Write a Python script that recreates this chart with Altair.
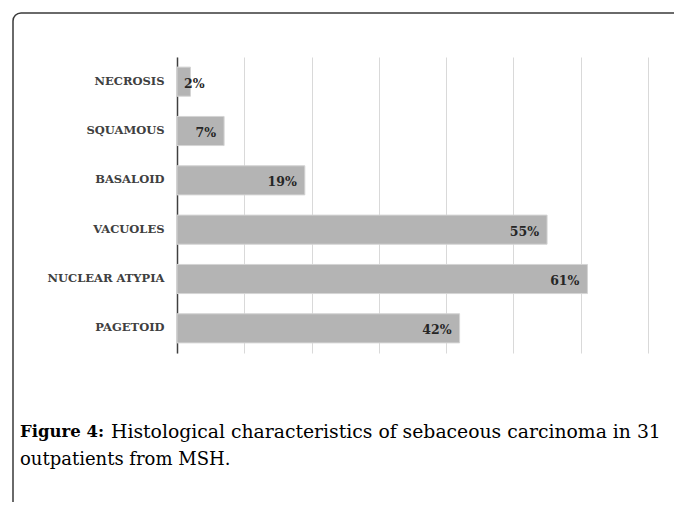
import altair as alt
import pandas as pd

categories = ["NECROSIS", "SQUAMOUS", "BASALOID", "VACUOLES", "NUCLEAR ATYPIA", "PAGETOID"]
values = [2, 7, 19, 55, 61, 42]
value_labels = ["2%", "7%", "19%", "55%", "61%", "42%"]
grid_values = [0, 10, 20, 30, 40, 50, 60, 70]

caption_bold = "Figure 4:"
caption_line1 = "Histological characteristics of sebaceous carcinoma in 31"
caption_line2 = "outpatients from MSH."

df = pd.DataFrame({"cat": categories, "val": values, "lab": value_labels})

SERIF = "DejaVu Serif"

yenc = alt.Y("cat:N", sort=categories, title=None,
             scale=alt.Scale(paddingInner=0.41, paddingOuter=0.205),
             axis=alt.Axis(labelFont=SERIF, labelFontWeight="bold", labelFontSize=11.5,
                           labelColor="#404040", labelPadding=13, ticks=False,
                           domainColor="#404040", domainWidth=1.5, grid=False))
xscale = alt.Scale(domain=[0, 70], nice=False)
xaxis = alt.Axis(values=grid_values, labels=False, ticks=False, domain=False, grid=True,
                 gridColor="#d9d9d9", gridWidth=1, title=None)

bars = alt.Chart(df).mark_bar(color="#b4b4b4", stroke="#d4d4d4", strokeWidth=1).encode(
    x=alt.X("val:Q", scale=xscale, axis=xaxis),
    y=yenc,
)

inside = alt.Chart(df).transform_filter("datum.val >= 5").mark_text(
    align="right", baseline="middle", dx=-8, dy=2, font=SERIF, fontWeight="bold",
    fontSize=12.5, color="#262626"
).encode(x=alt.X("val:Q", scale=xscale), y=alt.Y("cat:N", sort=categories), text="lab:N")

small = alt.Chart(df).transform_filter("datum.val < 5").transform_calculate(zero="0").mark_text(
    align="left", baseline="middle", dx=7, dy=2, font=SERIF, fontWeight="bold",
    fontSize=12.5, color="#262626"
).encode(x=alt.X("zero:Q", scale=xscale), y=alt.Y("cat:N", sort=categories), text="lab:N")

cap_df = pd.DataFrame({"b": [caption_bold], "l1": [caption_line1], "l2": [caption_line2]})

cap_bold = alt.Chart(cap_df).mark_text(
    align="left", baseline="middle", font=SERIF, fontWeight="bold", fontSize=16.5, color="#000000"
).encode(x=alt.value(-157), y=alt.value(375), text="b:N")
cap_l1 = alt.Chart(cap_df).mark_text(
    align="left", baseline="middle", font=SERIF, fontSize=18.8, color="#000000"
).encode(x=alt.value(-66), y=alt.value(375), text="l1:N")
cap_l2 = alt.Chart(cap_df).mark_text(
    align="left", baseline="middle", font=SERIF, fontSize=18, color="#000000"
).encode(x=alt.value(-157), y=alt.value(403), text="l2:N")

frame = alt.Chart(cap_df).mark_rect(
    fill="#ffffff", fillOpacity=0, stroke="#3a3a3a", strokeWidth=1.5,
    cornerRadiusTopLeft=8, cornerRadiusTopRight=0, cornerRadiusBottomLeft=0, cornerRadiusBottomRight=0
).encode(x=alt.value(-164), x2=alt.value(700), y=alt.value(-44), y2=alt.value(600))

chart = alt.layer(frame, bars, inside, small, cap_bold, cap_l1, cap_l2).properties(
    width=471, height=296,
    autosize=alt.AutoSizeParams(type="none"),
    padding={"left": 169, "top": 49, "right": 26, "bottom": 149},
    background="#ffffff",
).configure_view(stroke=None)

chart.save("out.html", embed_options={"renderer": "svg", "actions": False})
